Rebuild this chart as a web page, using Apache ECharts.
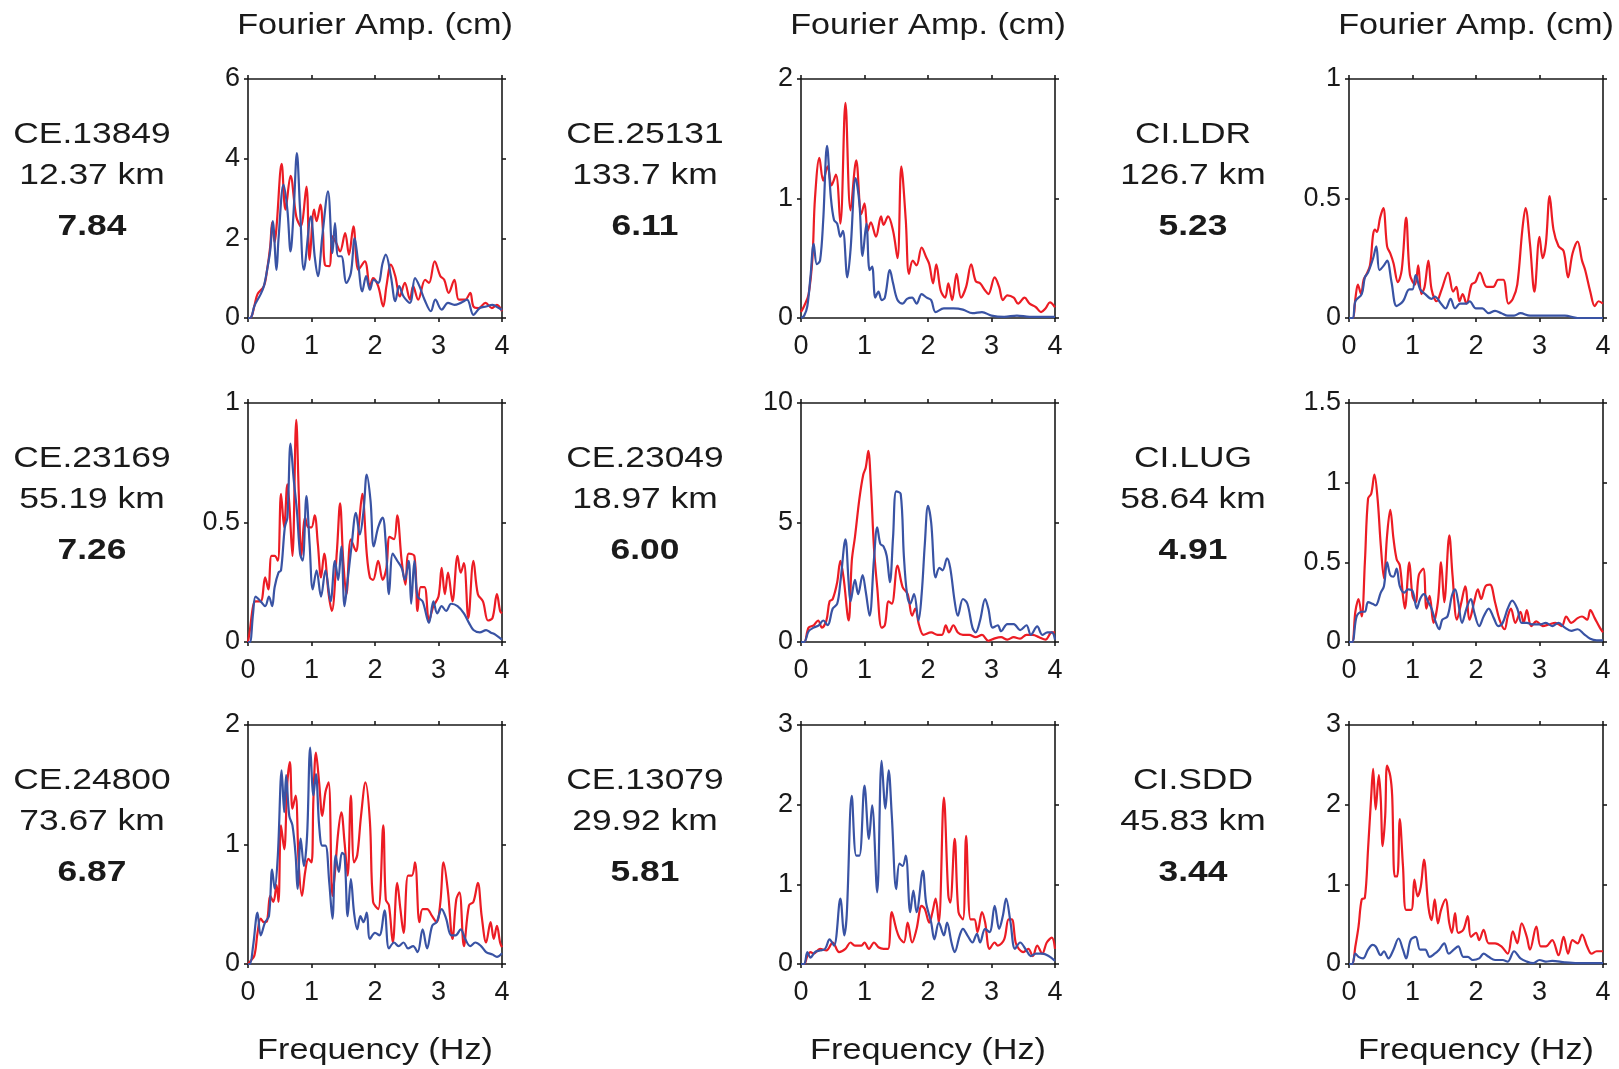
<!DOCTYPE html>
<html>
<head>
<meta charset="utf-8">
<title>Fourier amplitude spectra</title>
<script src="https://cdn.jsdelivr.net/npm/echarts@6/dist/echarts.min.js"></script>
<style>
  html, body { margin: 0; padding: 0; background: #fff; }
  #chart { width: 1619px; height: 1069px; }
</style>
</head>
<body>
<div id="chart"></div>
<script>
// Station panels, row by row
const stations  = ['CE.13849', 'CE.25131', 'CI.LDR', 'CE.23169', 'CE.23049', 'CI.LUG', 'CE.24800', 'CE.13079', 'CI.SDD'];
const distances = ['12.37 km', '133.7 km', '126.7 km', '55.19 km', '18.97 km', '58.64 km', '73.67 km', '29.92 km', '45.83 km'];
const magnitudes = ['7.84', '6.11', '5.23', '7.26', '6.00', '4.91', '6.87', '5.81', '3.44'];
const yMax      = [6, 2, 1, 1, 10, 1.5, 2, 3, 3];
const yStep     = [2, 1, 0.5, 0.5, 5, 0.5, 1, 1, 1];
const freqTicks = [0, 4, 1];   // min, max, step (Hz)

// Spectra: [frequency (Hz), amplitude (cm)]
const ce13849Red = [[0,0],[0.05,0.02],[0.1,0.3],[0.15,0.6],[0.25,0.8],[0.3,1.2],[0.35,1.8],[0.38,2.4],[0.42,1.9],[0.45,2.3],[0.53,3.87],[0.59,2.72],[0.67,3.57],[0.76,2.55],[0.83,2.3],[0.92,3.3],[0.97,1.46],[1.04,2.72],[1.08,2.43],[1.14,2.85],[1.18,2.2],[1.21,1.34],[1.28,1.3],[1.33,2.05],[1.39,1.88],[1.45,1.67],[1.53,2.13],[1.59,1.59],[1.66,2.3],[1.74,1.21],[1.84,1.42],[1.92,0.8],[1.97,1.0],[2.05,0.8],[2.13,0.29],[2.18,0.8],[2.25,1.34],[2.32,1.05],[2.39,0.54],[2.47,0.88],[2.55,0.46],[2.6,0.8],[2.68,0.46],[2.79,0.96],[2.85,0.88],[2.94,1.42],[3.03,1.05],[3.09,0.96],[3.16,0.63],[3.25,0.96],[3.32,0.46],[3.42,0.46],[3.5,0.63],[3.55,0.29],[3.63,0.25],[3.74,0.38],[3.84,0.25],[3.92,0.33],[4.0,0.17]];
const ce13849Blue = [[0,0],[0.05,0.02],[0.1,0.3],[0.2,0.6],[0.25,0.8],[0.3,1.2],[0.35,1.7],[0.39,2.43],[0.45,1.21],[0.48,1.97],[0.56,3.35],[0.62,2.72],[0.67,1.67],[0.72,2.72],[0.77,4.14],[0.82,2.72],[0.88,1.21],[0.99,2.55],[1.05,1.55],[1.1,1.05],[1.17,2.05],[1.26,3.18],[1.33,1.63],[1.37,2.38],[1.42,1.55],[1.47,1.55],[1.55,0.88],[1.62,1.13],[1.68,2.0],[1.73,1.46],[1.8,0.67],[1.86,1.05],[1.92,0.71],[1.98,0.96],[2.05,0.88],[2.12,1.38],[2.17,1.59],[2.25,1.05],[2.32,0.42],[2.38,0.8],[2.45,0.54],[2.55,0.38],[2.63,1.0],[2.7,0.8],[2.78,0.46],[2.88,0.17],[2.95,0.46],[3.05,0.21],[3.15,0.38],[3.25,0.33],[3.35,0.38],[3.45,0.46],[3.55,0.08],[3.65,0.25],[3.75,0.29],[3.85,0.33],[3.95,0.25],[4.0,0.2]];

const ce25131Red = [[0,0.05],[0.05,0.1],[0.12,0.2],[0.18,0.5],[0.22,1.0],[0.29,1.34],[0.35,1.15],[0.42,1.27],[0.48,1.11],[0.55,1.2],[0.62,0.79],[0.7,1.8],[0.78,0.9],[0.87,1.32],[0.95,0.87],[1.0,0.96],[1.05,0.73],[1.1,0.8],[1.18,0.68],[1.26,0.85],[1.3,0.78],[1.37,0.85],[1.45,0.73],[1.52,0.5],[1.58,1.27],[1.65,0.82],[1.7,0.37],[1.76,0.48],[1.82,0.44],[1.9,0.59],[1.97,0.51],[2.02,0.45],[2.08,0.29],[2.13,0.45],[2.2,0.23],[2.27,0.17],[2.32,0.29],[2.38,0.15],[2.45,0.37],[2.52,0.17],[2.6,0.26],[2.68,0.45],[2.75,0.31],[2.82,0.29],[2.9,0.23],[2.95,0.2],[3.05,0.34],[3.12,0.26],[3.18,0.15],[3.25,0.19],[3.35,0.17],[3.42,0.12],[3.52,0.17],[3.6,0.12],[3.7,0.09],[3.78,0.05],[3.85,0.08],[3.92,0.13],[4.0,0.09]];
const ce25131Blue = [[0,0],[0.05,0.02],[0.1,0.1],[0.15,0.35],[0.2,0.62],[0.25,0.45],[0.3,0.48],[0.35,0.82],[0.41,1.44],[0.47,1.01],[0.52,0.82],[0.57,0.79],[0.62,0.68],[0.66,0.73],[0.73,0.34],[0.78,0.57],[0.86,1.17],[0.92,0.96],[0.97,0.52],[1.03,0.79],[1.08,0.4],[1.12,0.43],[1.17,0.17],[1.22,0.22],[1.27,0.15],[1.32,0.17],[1.4,0.4],[1.45,0.29],[1.52,0.15],[1.6,0.12],[1.67,0.16],[1.75,0.17],[1.82,0.12],[1.9,0.2],[1.98,0.17],[2.05,0.15],[2.12,0.05],[2.25,0.08],[2.4,0.08],[2.55,0.07],[2.7,0.04],[2.85,0.05],[3.0,0.02],[3.2,0.01],[3.4,0.02],[3.6,0.01],[4.0,0.01]];

const ciLdrRed = [[0,0],[0.06,0.0],[0.1,0.08],[0.14,0.14],[0.19,0.1],[0.23,0.16],[0.27,0.18],[0.33,0.22],[0.38,0.35],[0.41,0.37],[0.44,0.36],[0.49,0.42],[0.54,0.46],[0.6,0.3],[0.65,0.27],[0.7,0.23],[0.77,0.15],[0.83,0.2],[0.9,0.42],[0.96,0.18],[1.04,0.14],[1.09,0.22],[1.14,0.1],[1.19,0.13],[1.25,0.24],[1.3,0.12],[1.38,0.07],[1.46,0.12],[1.56,0.19],[1.64,0.11],[1.69,0.13],[1.74,0.07],[1.79,0.1],[1.85,0.06],[1.93,0.14],[1.99,0.15],[2.06,0.19],[2.17,0.13],[2.27,0.13],[2.35,0.16],[2.43,0.16],[2.51,0.06],[2.58,0.08],[2.65,0.14],[2.73,0.37],[2.78,0.46],[2.85,0.31],[2.92,0.11],[3.0,0.34],[3.05,0.25],[3.1,0.31],[3.16,0.51],[3.22,0.37],[3.3,0.3],[3.38,0.28],[3.45,0.17],[3.52,0.27],[3.6,0.32],[3.67,0.24],[3.72,0.2],[3.8,0.11],[3.87,0.05],[3.93,0.07],[4.0,0.06]];
const ciLdrBlue = [[0,0],[0.06,0.0],[0.1,0.07],[0.2,0.1],[0.25,0.17],[0.3,0.19],[0.38,0.25],[0.43,0.3],[0.48,0.2],[0.55,0.22],[0.6,0.24],[0.67,0.15],[0.75,0.05],[0.85,0.07],[0.95,0.12],[1.0,0.12],[1.05,0.18],[1.12,0.12],[1.2,0.1],[1.3,0.08],[1.35,0.09],[1.45,0.06],[1.52,0.04],[1.6,0.08],[1.67,0.04],[1.75,0.06],[1.85,0.06],[1.9,0.07],[2.0,0.04],[2.1,0.04],[2.2,0.02],[2.3,0.03],[2.4,0.02],[2.5,0.01],[2.6,0.01],[2.7,0.02],[2.85,0.01],[3.0,0.01],[3.2,0.01],[3.4,0.01],[3.6,0.0],[4.0,0.0]];

const ce23169Red = [[0,0],[0.03,0.05],[0.08,0.15],[0.12,0.17],[0.2,0.17],[0.27,0.27],[0.32,0.22],[0.37,0.36],[0.42,0.36],[0.47,0.34],[0.52,0.62],[0.57,0.48],[0.62,0.66],[0.65,0.58],[0.7,0.36],[0.76,0.93],[0.8,0.62],[0.84,0.36],[0.9,0.52],[0.95,0.48],[1.0,0.48],[1.05,0.53],[1.1,0.41],[1.15,0.27],[1.2,0.37],[1.27,0.2],[1.32,0.13],[1.4,0.38],[1.45,0.58],[1.5,0.34],[1.55,0.2],[1.62,0.43],[1.7,0.38],[1.75,0.5],[1.8,0.62],[1.87,0.37],[1.92,0.27],[1.97,0.26],[2.05,0.34],[2.12,0.26],[2.18,0.31],[2.23,0.44],[2.3,0.43],[2.35,0.53],[2.42,0.34],[2.48,0.24],[2.53,0.37],[2.62,0.36],[2.67,0.13],[2.72,0.23],[2.78,0.23],[2.85,0.09],[2.92,0.15],[3.0,0.19],[3.05,0.31],[3.1,0.2],[3.15,0.29],[3.22,0.17],[3.3,0.36],[3.35,0.29],[3.4,0.33],[3.47,0.1],[3.55,0.34],[3.62,0.2],[3.7,0.17],[3.78,0.09],[3.85,0.1],[3.92,0.2],[3.97,0.13],[4.0,0.12]];
const ce23169Blue = [[0,0],[0.03,0.0],[0.08,0.12],[0.12,0.19],[0.2,0.17],[0.27,0.15],[0.33,0.19],[0.38,0.15],[0.42,0.23],[0.48,0.29],[0.52,0.3],[0.58,0.48],[0.62,0.52],[0.67,0.83],[0.72,0.68],[0.77,0.55],[0.82,0.37],[0.86,0.34],[0.92,0.61],[0.97,0.41],[1.02,0.22],[1.08,0.3],[1.15,0.19],[1.22,0.3],[1.3,0.17],[1.37,0.34],[1.42,0.26],[1.47,0.4],[1.52,0.15],[1.57,0.26],[1.63,0.4],[1.7,0.54],[1.76,0.45],[1.82,0.55],[1.87,0.7],[1.93,0.59],[1.98,0.4],[2.05,0.48],[2.12,0.52],[2.17,0.41],[2.22,0.2],[2.28,0.37],[2.35,0.34],[2.42,0.31],[2.47,0.26],[2.53,0.34],[2.57,0.16],[2.62,0.34],[2.67,0.19],[2.75,0.17],[2.85,0.08],[2.92,0.17],[2.98,0.12],[3.05,0.15],[3.12,0.13],[3.2,0.16],[3.3,0.15],[3.4,0.12],[3.48,0.08],[3.55,0.05],[3.65,0.04],[3.75,0.05],[3.82,0.04],[3.9,0.03],[4.0,0.01]];

const ce23049Red = [[0,0],[0.05,0.0],[0.12,0.6],[0.2,0.7],[0.27,0.9],[0.33,0.6],[0.4,0.9],[0.45,1.7],[0.5,1.8],[0.57,2.5],[0.62,3.4],[0.67,2.7],[0.75,0.9],[0.8,3.4],[0.85,4.4],[0.92,6.0],[0.98,7.0],[1.02,7.3],[1.06,8.0],[1.1,6.6],[1.15,3.9],[1.2,2.3],[1.27,0.6],[1.32,0.7],[1.38,1.7],[1.43,1.6],[1.52,3.2],[1.6,2.3],[1.68,2.0],[1.75,1.1],[1.8,1.4],[1.86,0.7],[1.93,0.3],[2.05,0.4],[2.15,0.3],[2.22,0.3],[2.28,0.7],[2.33,0.4],[2.4,0.7],[2.47,0.4],[2.55,0.3],[2.65,0.3],[2.75,0.2],[2.85,0.3],[2.95,0.05],[3.05,0.15],[3.15,0.2],[3.25,0.1],[3.35,0.2],[3.45,0.14],[3.55,0.3],[3.65,0.3],[3.75,0.2],[3.85,0.1],[3.95,0.4],[4.0,0.4]];
const ce23049Blue = [[0,0],[0.05,0.0],[0.12,0.45],[0.2,0.6],[0.28,0.7],[0.35,0.9],[0.42,0.7],[0.5,1.4],[0.57,1.6],[0.62,2.5],[0.7,4.3],[0.75,2.5],[0.78,1.7],[0.85,2.6],[0.9,2.0],[0.97,2.8],[1.02,2.1],[1.08,1.1],[1.15,3.5],[1.2,4.8],[1.25,4.1],[1.3,4.0],[1.35,3.6],[1.4,2.5],[1.45,4.4],[1.5,6.3],[1.57,6.2],[1.62,3.6],[1.67,2.0],[1.72,1.6],[1.78,2.0],[1.85,0.9],[1.9,2.0],[1.95,4.1],[2.0,5.7],[2.05,5.0],[2.12,2.7],[2.18,3.1],[2.23,3.0],[2.3,3.5],[2.35,3.1],[2.42,1.7],[2.47,1.1],[2.55,1.8],[2.62,1.6],[2.7,0.6],[2.75,0.4],[2.82,0.9],[2.9,1.8],[2.95,1.4],[3.02,0.6],[3.1,0.7],[3.15,0.45],[3.25,0.75],[3.35,0.75],[3.45,0.5],[3.55,0.7],[3.62,0.3],[3.72,0.65],[3.8,0.3],[3.88,0.4],[3.95,0.4],[4.0,0.1]];

const ciLugRed = [[0,0],[0.05,0.0],[0.1,0.19],[0.15,0.27],[0.2,0.16],[0.25,0.5],[0.3,0.9],[0.35,0.93],[0.4,1.05],[0.45,0.9],[0.5,0.61],[0.55,0.4],[0.6,0.67],[0.65,0.83],[0.7,0.65],[0.75,0.52],[0.8,0.48],[0.85,0.29],[0.88,0.21],[0.95,0.5],[1.0,0.29],[1.05,0.25],[1.1,0.42],[1.17,0.46],[1.22,0.21],[1.27,0.29],[1.33,0.12],[1.4,0.25],[1.45,0.5],[1.5,0.25],[1.58,0.67],[1.63,0.42],[1.7,0.14],[1.77,0.25],[1.83,0.35],[1.9,0.14],[1.97,0.25],[2.03,0.33],[2.08,0.27],[2.15,0.35],[2.22,0.36],[2.3,0.25],[2.37,0.14],[2.45,0.08],[2.5,0.16],[2.55,0.21],[2.62,0.12],[2.7,0.19],[2.75,0.12],[2.8,0.2],[2.87,0.1],[2.95,0.13],[3.05,0.1],[3.15,0.11],[3.25,0.12],[3.35,0.1],[3.42,0.16],[3.5,0.12],[3.6,0.15],[3.67,0.16],[3.75,0.14],[3.8,0.2],[3.87,0.15],[3.95,0.09],[4.0,0.06]];
const ciLugBlue = [[0,0],[0.05,0.0],[0.12,0.16],[0.2,0.19],[0.25,0.19],[0.3,0.25],[0.37,0.24],[0.42,0.23],[0.5,0.31],[0.55,0.35],[0.6,0.5],[0.65,0.42],[0.7,0.41],[0.75,0.46],[0.8,0.35],[0.87,0.31],[0.93,0.33],[1.0,0.32],[1.07,0.21],[1.12,0.27],[1.18,0.3],[1.25,0.25],[1.3,0.21],[1.37,0.12],[1.42,0.08],[1.47,0.14],[1.55,0.16],[1.62,0.29],[1.67,0.33],[1.72,0.25],[1.78,0.12],[1.85,0.21],[1.92,0.27],[1.97,0.19],[2.05,0.1],[2.12,0.16],[2.2,0.21],[2.28,0.15],[2.35,0.1],[2.42,0.12],[2.5,0.21],[2.57,0.26],[2.65,0.21],[2.72,0.12],[2.8,0.12],[2.9,0.11],[3.0,0.11],[3.1,0.12],[3.2,0.1],[3.3,0.12],[3.4,0.09],[3.5,0.07],[3.6,0.08],[3.7,0.05],[3.8,0.02],[3.9,0.01],[4.0,0.01]];

const ce24800Red = [[0,0],[0.03,0.02],[0.1,0.07],[0.15,0.26],[0.2,0.38],[0.25,0.35],[0.3,0.36],[0.35,0.57],[0.4,0.52],[0.45,0.66],[0.48,0.52],[0.52,1.16],[0.57,0.96],[0.62,1.52],[0.66,1.69],[0.7,1.3],[0.75,1.41],[0.8,0.82],[0.85,0.57],[0.9,0.77],[0.95,0.88],[1.0,0.85],[1.03,1.38],[1.07,1.77],[1.12,1.52],[1.17,1.24],[1.22,1.44],[1.27,1.52],[1.33,0.57],[1.37,0.77],[1.42,1.1],[1.47,1.27],[1.52,1.02],[1.57,0.74],[1.62,1.41],[1.67,0.85],[1.72,0.91],[1.78,1.24],[1.85,1.52],[1.92,1.19],[1.97,0.52],[2.05,0.46],[2.13,1.16],[2.17,0.54],[2.22,0.49],[2.28,0.18],[2.35,0.68],[2.4,0.46],[2.45,0.26],[2.52,0.74],[2.58,0.74],[2.63,0.85],[2.7,0.35],[2.75,0.46],[2.82,0.46],[2.9,0.4],[2.97,0.35],[3.03,0.52],[3.08,0.85],[3.15,0.6],[3.22,0.21],[3.28,0.54],[3.33,0.6],[3.4,0.15],[3.48,0.49],[3.55,0.52],[3.62,0.68],[3.68,0.4],[3.75,0.18],[3.82,0.35],[3.87,0.21],[3.92,0.32],[3.97,0.18],[4.0,0.14]];
const ce24800Blue = [[0,0],[0.03,0.0],[0.08,0.15],[0.15,0.43],[0.2,0.24],[0.27,0.35],[0.33,0.4],[0.38,0.79],[0.42,0.63],[0.47,0.91],[0.53,1.62],[0.57,1.27],[0.6,1.58],[0.65,1.24],[0.7,1.16],[0.75,0.91],[0.78,0.63],[0.83,1.05],[0.88,0.82],[0.93,1.07],[0.98,1.81],[1.03,1.41],[1.07,1.59],[1.12,1.16],[1.17,0.99],[1.22,0.99],[1.28,0.68],[1.33,0.38],[1.38,0.91],[1.43,0.77],[1.48,0.93],[1.52,0.91],[1.57,0.4],[1.62,0.71],[1.67,0.43],[1.72,0.29],[1.77,0.4],[1.82,0.35],[1.87,0.43],[1.92,0.21],[2.0,0.26],[2.07,0.24],[2.15,0.45],[2.22,0.13],[2.3,0.18],[2.37,0.15],[2.45,0.18],[2.52,0.13],[2.6,0.15],[2.67,0.1],[2.75,0.29],[2.82,0.13],[2.9,0.32],[2.97,0.35],[3.05,0.46],[3.12,0.38],[3.2,0.24],[3.27,0.24],[3.35,0.29],[3.42,0.21],[3.5,0.15],[3.58,0.18],[3.67,0.15],[3.75,0.1],[3.85,0.08],[3.92,0.06],[4.0,0.09]];

const ce13079Red = [[0,0],[0.05,0.0],[0.1,0.1],[0.15,0.15],[0.2,0.13],[0.3,0.19],[0.4,0.17],[0.5,0.27],[0.6,0.15],[0.7,0.19],[0.78,0.27],[0.85,0.23],[0.95,0.23],[1.0,0.27],[1.07,0.19],[1.15,0.27],[1.22,0.21],[1.3,0.19],[1.37,0.19],[1.43,0.65],[1.5,0.44],[1.55,0.33],[1.62,0.27],[1.68,0.52],[1.75,0.27],[1.82,0.44],[1.9,0.73],[1.95,0.69],[2.02,0.52],[2.07,0.65],[2.12,0.82],[2.17,0.52],[2.25,2.09],[2.32,0.86],[2.35,0.77],[2.42,1.57],[2.48,0.65],[2.55,0.56],[2.6,1.61],[2.67,0.56],[2.73,0.56],[2.78,0.4],[2.85,0.65],[2.9,0.52],[2.97,0.19],[3.05,0.27],[3.1,0.23],[3.2,0.31],[3.27,0.56],[3.32,0.56],[3.38,0.27],[3.43,0.19],[3.5,0.15],[3.58,0.19],[3.65,0.1],[3.72,0.23],[3.8,0.13],[3.87,0.27],[3.95,0.33],[4.0,0.19]];
const ce13079Blue = [[0,0],[0.05,0.0],[0.1,0.15],[0.15,0.08],[0.22,0.15],[0.3,0.17],[0.38,0.19],[0.45,0.31],[0.52,0.23],[0.62,0.82],[0.68,0.36],[0.72,0.61],[0.8,2.11],[0.87,1.36],[0.92,1.36],[1.0,2.24],[1.07,1.57],[1.12,1.99],[1.2,0.9],[1.27,2.55],[1.33,1.95],[1.38,2.43],[1.43,1.86],[1.5,0.94],[1.55,1.26],[1.6,1.23],[1.65,1.36],[1.72,0.65],[1.77,0.92],[1.82,0.65],[1.92,1.17],[1.97,0.77],[2.05,0.52],[2.1,0.31],[2.17,0.52],[2.25,0.36],[2.3,0.52],[2.37,0.27],[2.42,0.15],[2.5,0.36],[2.55,0.44],[2.62,0.36],[2.7,0.27],[2.77,0.38],[2.82,0.27],[2.9,0.44],[2.97,0.4],[3.05,0.73],[3.12,0.44],[3.18,0.61],[3.23,0.82],[3.3,0.52],[3.37,0.19],[3.45,0.27],[3.55,0.17],[3.62,0.1],[3.7,0.13],[3.8,0.13],[3.9,0.1],[4.0,0.04]];

const ciSddRed = [[0,0],[0.05,0.0],[0.1,0.22],[0.15,0.47],[0.2,0.81],[0.25,0.83],[0.3,1.44],[0.35,2.11],[0.38,2.45],[0.42,1.94],[0.47,2.37],[0.5,2.07],[0.53,1.48],[0.57,1.86],[0.6,2.49],[0.65,2.36],[0.68,2.11],[0.72,1.1],[0.76,1.1],[0.8,1.82],[0.85,1.23],[0.9,0.68],[0.98,0.68],[1.03,1.06],[1.08,0.85],[1.13,0.97],[1.18,1.31],[1.25,0.72],[1.3,0.55],[1.35,0.81],[1.4,0.51],[1.45,0.68],[1.52,0.81],[1.58,0.51],[1.62,0.39],[1.67,0.64],[1.72,0.39],[1.8,0.43],[1.87,0.6],[1.92,0.34],[2.0,0.39],[2.05,0.3],[2.12,0.43],[2.2,0.26],[2.3,0.26],[2.4,0.22],[2.5,0.13],[2.58,0.41],[2.65,0.26],[2.72,0.51],[2.8,0.34],[2.85,0.18],[2.95,0.47],[3.02,0.22],[3.1,0.22],[3.2,0.3],[3.3,0.11],[3.38,0.34],[3.45,0.13],[3.52,0.3],[3.6,0.26],[3.67,0.37],[3.75,0.22],[3.82,0.13],[3.9,0.16],[4.0,0.16]];
const ciSddBlue = [[0,0],[0.05,0.0],[0.1,0.13],[0.15,0.09],[0.22,0.07],[0.3,0.18],[0.37,0.24],[0.42,0.22],[0.5,0.11],[0.55,0.16],[0.62,0.07],[0.7,0.18],[0.78,0.32],[0.85,0.18],[0.9,0.07],[0.97,0.3],[1.05,0.34],[1.12,0.18],[1.2,0.18],[1.27,0.09],[1.35,0.13],[1.42,0.18],[1.5,0.26],[1.57,0.13],[1.65,0.18],[1.72,0.22],[1.8,0.09],[1.87,0.09],[1.95,0.05],[2.05,0.07],[2.12,0.13],[2.2,0.09],[2.3,0.05],[2.42,0.05],[2.5,0.03],[2.6,0.16],[2.7,0.07],[2.8,0.03],[2.9,0.01],[3.0,0.05],[3.1,0.03],[3.2,0.04],[3.4,0.02],[3.6,0.01],[4.0,0.01]];

const redSeries  = [ce13849Red, ce25131Red, ciLdrRed, ce23169Red, ce23049Red, ciLugRed, ce24800Red, ce13079Red, ciSddRed];
const blueSeries = [ce13849Blue, ce25131Blue, ciLdrBlue, ce23169Blue, ce23049Blue, ciLugBlue, ce24800Blue, ce13079Blue, ciSddBlue];

const headerText = 'Fourier Amp. (cm)';
const footerText = 'Frequency (Hz)';

// ---- layout ----
const plotLeft = [248, 801, 1349];
const plotTop = [79, 403, 725];
const plotW = 254, plotH = 239;
const labelCenterX = [92, 645, 1193];
const INK = '#1a1a1a';
const RED = '#ec1c24';
const BLUE = '#3953a4';
const FONT = '"Liberation Sans", Arial, Helvetica, sans-serif';
const STRETCH = 1.18;

const grid = [], xAxis = [], yAxis = [], series = [], graphic = [];

function axisCommon() {
  return {
    axisLine: { show: true, onZero: false, lineStyle: { color: INK, width: 1.6 } },
    axisTick: { show: true, inside: false, length: 4, lineStyle: { color: INK, width: 1.6 } },
    splitLine: { show: false }
  };
}

function textEl(text, x, y, size, weight) {
  return {
    type: 'text', x: x, y: y, scaleX: STRETCH, scaleY: 1, silent: true,
    style: {
      text: text, x: 0, y: 0, fill: INK,
      font: (weight || 'normal') + ' ' + size + 'px ' + FONT,
      textAlign: 'center', textVerticalAlign: 'middle'
    }
  };
}

for (let i = 0; i < 9; i++) {
  const r = Math.floor(i / 3), c = i % 3;
  grid.push({ left: plotLeft[c], top: plotTop[r], width: plotW, height: plotH, outerBoundsMode: 'none' });

  const xBase = Object.assign(axisCommon(), { type: 'value', gridIndex: i, min: freqTicks[0], max: freqTicks[1], interval: freqTicks[2] });
  xAxis.push(Object.assign({}, xBase, {
    position: 'bottom',
    axisLabel: { show: true, color: INK, fontSize: 27, fontFamily: FONT, margin: 15 }
  }));
  xAxis.push(Object.assign({}, xBase, { position: 'top', axisLabel: { show: false } }));

  const yBase = Object.assign(axisCommon(), { type: 'value', gridIndex: i, min: 0, max: yMax[i], interval: yStep[i] });
  yAxis.push(Object.assign({}, yBase, {
    position: 'left',
    axisLabel: { show: true, color: INK, fontSize: 27, fontFamily: FONT, margin: 8 }
  }));
  yAxis.push(Object.assign({}, yBase, { position: 'right', axisLabel: { show: false } }));

  const lineBase = {
    type: 'line', xAxisIndex: 2 * i, yAxisIndex: 2 * i,
    showSymbol: false, smooth: 0.35, clip: true, silent: true, animation: false
  };
  series.push(Object.assign({}, lineBase, { data: redSeries[i], lineStyle: { color: RED, width: 2.2 }, itemStyle: { color: RED } }));
  series.push(Object.assign({}, lineBase, { data: blueSeries[i], lineStyle: { color: BLUE, width: 2.2 }, itemStyle: { color: BLUE } }));

  // station, distance and magnitude beside each panel
  const cx = labelCenterX[c], top = plotTop[r];
  graphic.push(textEl(stations[i], cx, top + 56, 30));
  graphic.push(textEl(distances[i], cx, top + 97, 30));
  graphic.push(textEl(magnitudes[i], cx, top + 148, 30, 'bold'));
}

for (let c = 0; c < 3; c++) {
  const cx = plotLeft[c] + plotW / 2;
  graphic.push(textEl(headerText, cx, 26, 29));
  graphic.push(textEl(footerText, cx, 1051, 29));
}

const chart = echarts.init(document.getElementById('chart'), null, { renderer: 'canvas' });
chart.setOption({
  animation: false,
  backgroundColor: '#ffffff',
  grid: grid, xAxis: xAxis, yAxis: yAxis, series: series, graphic: graphic
});
</script>
</body>
</html>
